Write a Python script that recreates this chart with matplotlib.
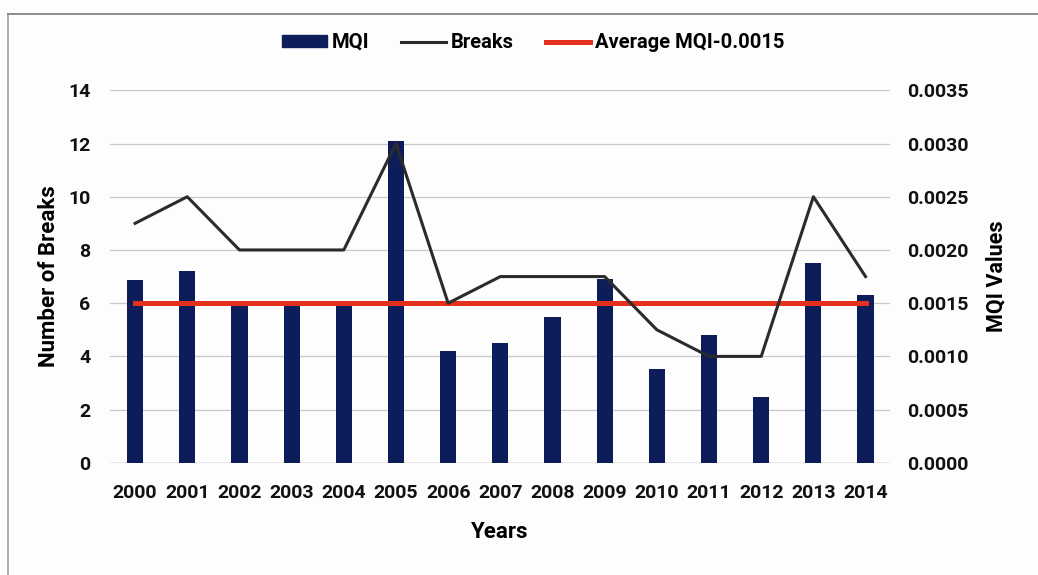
import matplotlib
matplotlib.use("Agg")
import matplotlib.pyplot as plt
from matplotlib.lines import Line2D
from matplotlib.patches import Patch

years = ["2000", "2001", "2002", "2003", "2004", "2005", "2006", "2007",
         "2008", "2009", "2010", "2011", "2012", "2013", "2014"]
mqi = [0.00172, 0.00180, 0.00150, 0.00150, 0.00150, 0.00302, 0.00105, 0.00113,
       0.00137, 0.00173, 0.00088, 0.00120, 0.00062, 0.00188, 0.00158]
breaks = [9, 10, 8, 8, 8, 12, 6, 7, 7, 7, 5, 4, 4, 10, 7]
avg_mqi = [0.0015] * len(years)

left_ticks = [0, 2, 4, 6, 8, 10, 12, 14]
right_ticks = [0.0, 0.0005, 0.0010, 0.0015, 0.0020, 0.0025, 0.0030, 0.0035]

NAVY = "#0c1d5a"
LINE = "#2b2b2b"
RED = "#e3311d"
GRID = "#c9c9c9"

plt.rcParams["font.family"] = ["Roboto", "DejaVu Sans"]
plt.rcParams["font.weight"] = "bold"

fig = plt.figure(figsize=(10.38, 5.75), dpi=100)
fig.patch.set_facecolor("#fdfdfd")

ax = fig.add_axes([0.106, 0.195, 0.751, 0.648])
ax2 = ax.twinx()
ax.set_zorder(ax2.get_zorder() + 1)
ax.patch.set_visible(False)

x = list(range(len(years)))

# MQI bars and average line on the right axis
ax2.bar(x, mqi, width=0.31, color=NAVY, zorder=2)
ax2.plot(x, avg_mqi, color=RED, lw=3.6, zorder=3)
ax2.set_ylim(0, 0.0035)
ax2.set_yticks(right_ticks)
ax2.set_yticklabels([f"{v:.4f}" for v in right_ticks])

# Breaks line on the left axis
ax.plot(x, breaks, color=LINE, lw=2.2, zorder=4)
ax.set_ylim(0, 14)
ax.set_yticks(left_ticks)
ax.set_xlim(-0.48, 14.46)
ax.set_xticks(x)
ax.set_xticklabels(years)

for t in left_ticks[1:]:
    ax2.axhline(t / 14 * 0.0035, color=GRID, lw=0.9, zorder=0)
ax2.axhline(0, color="#9a9a9a", lw=1.0, zorder=1)

for a in (ax, ax2):
    for s in a.spines.values():
        s.set_visible(False)
    a.tick_params(length=0, labelsize=14, colors="#111111")
    for lbl in a.get_xticklabels() + a.get_yticklabels():
        lbl.set_fontweight("bold")
ax.tick_params(axis="y", pad=14)
ax.tick_params(axis="x", pad=15)
ax2.tick_params(axis="y", pad=13)

ax.set_ylabel("Number of Breaks", fontsize=16, fontweight="bold", labelpad=6)
ax2.set_ylabel("MQI Values", fontsize=15.5, fontweight="bold", labelpad=12)
ax.set_xlabel("Years", fontsize=16, fontweight="bold", labelpad=14)

handles = [Patch(facecolor=NAVY, edgecolor=NAVY),
           Line2D([0], [0], color=LINE, lw=2.2),
           Line2D([0], [0], color=RED, lw=3.6)]
labels = ["MQI", "Breaks", "Average MQI-0.0015"]
fig.legend(handles, labels, loc="center", bbox_to_anchor=(0.514, 0.926), ncol=3,
           frameon=False, prop={"size": 14.5, "weight": "bold"}, handlelength=2.2,
           handleheight=0.5, handletextpad=0.25, columnspacing=1.6)

# page frame around the chart
fig.add_artist(Line2D([0.008, 0.008], [0.0, 0.975], color="#a0a0a0", lw=1.2,
                      transform=fig.transFigure))
fig.add_artist(Line2D([0.008, 1.0], [0.975, 0.975], color="#8a8a8a", lw=1.4,
                      transform=fig.transFigure))

fig.savefig("out.png", dpi=100, facecolor=fig.get_facecolor())
